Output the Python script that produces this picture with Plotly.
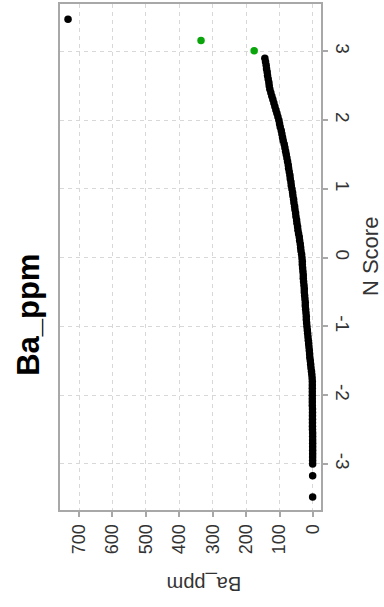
import plotly.graph_objects as go

# Normal-score curve (main black points)
nscore = [2.90, 2.85, 2.80, 2.75, 2.70, 2.65, 2.60, 2.55, 2.50, 2.45,
          2.40, 2.35, 2.30, 2.25, 2.20, 2.15, 2.10, 2.05, 2.00,
          1.95, 1.90, 1.85, 1.80, 1.75, 1.70, 1.65, 1.60, 1.55, 1.50, 1.45,
          1.40, 1.35, 1.30, 1.25, 1.20, 1.15, 1.10, 1.05, 1.00,
          0.95, 0.90, 0.85, 0.80, 0.75, 0.70, 0.65, 0.60, 0.55, 0.50, 0.45, 0.40,
          0.35, 0.30, 0.25, 0.20, 0.15, 0.10, 0.05, 0.00,
          -0.05, -0.10, -0.15, -0.20, -0.25, -0.30, -0.35, -0.40, -0.45, -0.50, -0.55, -0.60,
          -0.65, -0.70, -0.75, -0.80, -0.85, -0.90, -0.95, -1.00,
          -1.05, -1.10, -1.15, -1.20, -1.25, -1.30, -1.35, -1.40, -1.45,
          -1.50, -1.55, -1.60, -1.65, -1.70, -1.75,
          -1.80, -1.85, -1.90, -1.95, -2.00, -2.05, -2.10, -2.15, -2.20, -2.25,
          -2.30, -2.35, -2.40, -2.45, -2.50, -2.55, -2.60, -2.65, -2.70, -2.75,
          -2.80, -2.85, -2.90, -2.95, -3.00, -3.17, -3.48]
ba_ppm = [144, 142, 140, 139, 137, 136, 134, 132, 131, 129,
          126, 123, 120, 117, 114, 111, 108, 105, 102,
          100, 98, 95, 93, 91, 89, 86, 84, 82, 80, 78,
          76, 74, 73, 71, 69, 68, 66, 65, 63,
          61, 60, 58, 57, 55, 54, 52, 51, 49, 48, 46, 45,
          43, 41, 40, 38, 37, 36, 34, 33,
          32, 32, 31, 30, 29, 29, 28, 27, 26, 26, 25, 24,
          23, 23, 22, 21, 20, 20, 19, 18,
          17, 16, 15, 14, 13, 12, 11, 10, 9.5,
          8, 7, 6, 4.5, 3.5, 2.5,
          2, 2, 2, 2, 2, 2, 2, 2, 1.5, 1.5,
          1.5, 1.5, 1.5, 1.5, 1.5, 1, 1, 1, 1, 1,
          1, 1, 1, 1, 1, 1, 1]

# Outliers
top_ba = [733]
top_ns = [3.47]
green_ba = [335, 176]
green_ns = [3.16, 3.01]

x_ticks = [0, 100, 200, 300, 400, 500, 600, 700]
y_ticks = [-3, -2, -1, 0, 1, 2, 3]

FONT = "Liberation Sans, Arial, sans-serif"

fig = go.Figure()
fig.add_trace(go.Scatter(x=ba_ppm, y=nscore, mode="markers",
                         marker=dict(color="#000000", size=7.5, line=dict(width=0)),
                         showlegend=False, hoverinfo="x+y"))
fig.add_trace(go.Scatter(x=top_ba, y=top_ns, mode="markers",
                         marker=dict(color="#000000", size=7.5, line=dict(width=0)),
                         showlegend=False))
fig.add_trace(go.Scatter(x=green_ba, y=green_ns, mode="markers",
                         marker=dict(color="#0aa50a", size=7.5, line=dict(width=0)),
                         showlegend=False))

axis_common = dict(showgrid=True, gridcolor="#d8d8d8", griddash="4px,4px", gridwidth=1,
                   zeroline=False, showline=True, linecolor="#a8a8a8", linewidth=2,
                   mirror=True, ticks="outside", ticklen=5, tickcolor="#a8a8a8",
                   tickwidth=1.5, automargin=False)

fig.update_layout(
    width=384, height=607,
    margin=dict(l=60, r=63, t=4, b=97, autoexpand=False),
    paper_bgcolor="white", plot_bgcolor="white",
    xaxis=dict(range=[757, -24], tickvals=x_ticks, ticktext=[str(v) for v in x_ticks],
               tickangle=-90, side="bottom",
               tickfont=dict(family=FONT, size=18, color="#333333"), **axis_common),
    yaxis=dict(range=[-3.67, 3.69], tickvals=y_ticks, ticktext=[str(v) for v in y_ticks],
               tickangle=90, side="right",
               tickfont=dict(family=FONT, size=19, color="#333333"), **axis_common),
    annotations=[
        dict(text="<b>Ba_ppm</b>", xref="paper", yref="paper", x=-0.12, y=0.385,
             textangle=-90, showarrow=False, xanchor="center", yanchor="middle",
             font=dict(family=FONT, size=31, color="#000000")),
        dict(text="N Score", xref="paper", yref="paper", x=1.188, y=0.5,
             textangle=-90, showarrow=False, xanchor="center", yanchor="middle",
             font=dict(family=FONT, size=22, color="#333333")),
        dict(text="Ba_ppm", xref="paper", yref="paper", x=0.552, y=-0.144,
             textangle=180, showarrow=False, xanchor="center", yanchor="middle",
             font=dict(family=FONT, size=20, color="#333333")),
    ],
)

fig.write_html("out.html", config={"displayModeBar": False},
               post_script="document.body.style.margin='0';document.body.style.overflow='hidden';")
